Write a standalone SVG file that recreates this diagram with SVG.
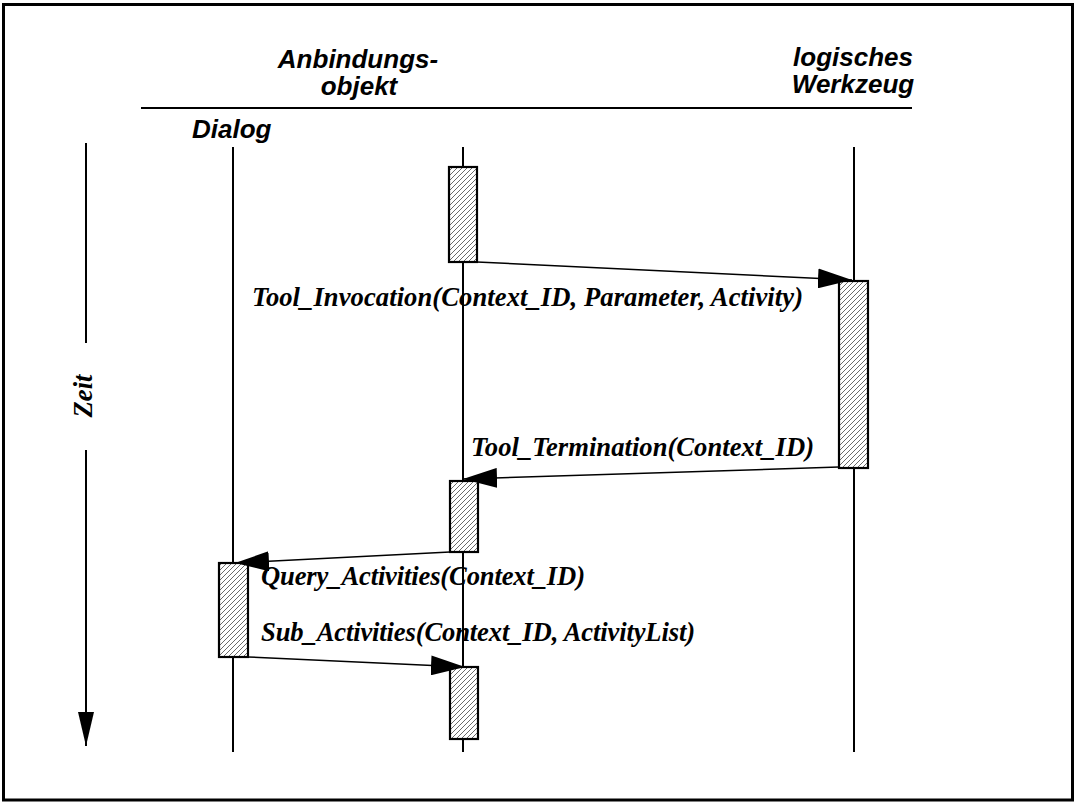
<svg xmlns="http://www.w3.org/2000/svg" width="1075" height="803" viewBox="0 0 1075 803">
  <style>
    .hdr { font-family: "Liberation Sans", Arial, sans-serif; font-weight: bold; font-style: italic; font-size: 26px; fill: #000; }
    .msg { font-family: "Liberation Serif", "Times New Roman", serif; font-weight: bold; font-style: italic; font-size: 26.6px; fill: #000; }
    .life { stroke: #000; stroke-width: 2; fill: none; }
    .act { fill: url(#hatch); stroke: #000; stroke-width: 2.2; }
    .call { stroke: #000; stroke-width: 1.5; fill: none; marker-end: url(#head); }
  </style>
  <defs>
    <pattern id="hatch" patternUnits="userSpaceOnUse" width="5" height="5">
      <rect width="5" height="5" fill="#fff"/>
      <path d="M-1,1 L1,-1 M0,5 L5,0 M4,6 L6,4" stroke="#444" stroke-width="0.8"/>
    </pattern>
    <marker id="head" markerUnits="userSpaceOnUse" viewBox="0 0 34 20" refX="34" refY="10" markerWidth="34" markerHeight="20" orient="auto">
      <path d="M0,0 L34,10 L0,20 z" fill="#000"/>
    </marker>
    <marker id="timehead" markerUnits="userSpaceOnUse" viewBox="0 0 16 34" refX="8" refY="34" markerWidth="16" markerHeight="34" orient="0">
      <path d="M0,0 L16,0 L8,34 z" fill="#000"/>
    </marker>
  </defs>

  <!-- outer frame -->
  <rect x="3.5" y="4.5" width="1069" height="795.5" fill="#fff" stroke="#000" stroke-width="3"/>

  <!-- header rule -->
  <line x1="141" y1="108" x2="912" y2="108" stroke="#000" stroke-width="2.2"/>

  <!-- time axis -->
  <g id="time-axis">
    <line x1="86" y1="143" x2="86" y2="343" stroke="#000" stroke-width="2"/>
    <line x1="86" y1="450" x2="86" y2="746" stroke="#000" stroke-width="2" marker-end="url(#timehead)"/>
    <text class="msg" font-size="26" text-anchor="middle" transform="translate(92,396) rotate(-90)">Zeit</text>
  </g>

  <!-- participants with lifelines and activation bars -->
  <g id="dialog">
    <text class="hdr" x="192" y="138">Dialog</text>
    <line class="life" x1="233" y1="147" x2="233" y2="752"/>
    <rect class="act" x="219" y="563" width="29" height="94"/>
  </g>

  <g id="anbindungsobjekt">
    <text class="hdr" text-anchor="middle" x="358" y="68">Anbindungs-</text>
    <text class="hdr" text-anchor="middle" x="359" y="95">objekt</text>
    <line class="life" x1="463" y1="147" x2="463" y2="752"/>
    <rect class="act" x="449" y="167" width="28" height="95"/>
    <rect class="act" x="450" y="481" width="28" height="71"/>
    <rect class="act" x="450" y="667" width="28" height="72"/>
  </g>

  <g id="werkzeug">
    <text class="hdr" text-anchor="middle" x="853" y="66">logisches</text>
    <text class="hdr" text-anchor="middle" x="853" y="93">Werkzeug</text>
    <line class="life" x1="854" y1="147" x2="854" y2="752"/>
    <rect class="act" x="839" y="281" width="29" height="187"/>
  </g>

  <!-- messages -->
  <g id="connectors">
    <line class="call" x1="477" y1="262" x2="852" y2="280"/>
    <line class="call" x1="839" y1="467" x2="463" y2="479"/>
    <line class="call" x1="450" y1="552" x2="235" y2="563"/>
    <line class="call" x1="248" y1="657" x2="465" y2="667"/>
  </g>

  <g id="labels">
    <text class="msg" x="252" y="306" textLength="551" lengthAdjust="spacing">Tool_Invocation(Context_ID, Parameter, Activity)</text>
    <text class="msg" x="471" y="456" textLength="343" lengthAdjust="spacing">Tool_Termination(Context_ID)</text>
    <text class="msg" x="261" y="585" textLength="324" lengthAdjust="spacing">Query_Activities(Context_ID)</text>
    <text class="msg" x="261" y="641" textLength="434" lengthAdjust="spacing">Sub_Activities(Context_ID, ActivityList)</text>
  </g>
</svg>
